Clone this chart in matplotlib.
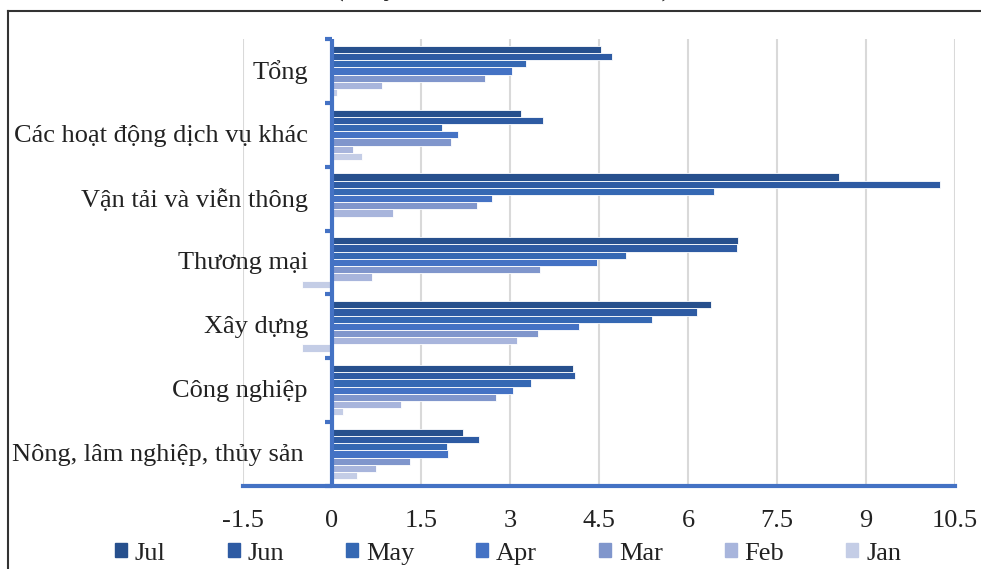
import numpy as np
import matplotlib
matplotlib.use("Agg")
import matplotlib.pyplot as plt
from matplotlib.patches import Rectangle
from matplotlib.lines import Line2D

plt.rcParams['font.family'] = ['Liberation Serif', 'DejaVu Serif']

categories = ["Tổng", "Các hoạt động dịch vụ khác", "Vận tải và viễn thông",
              "Thương mại", "Xây dựng", "Công nghiệp", "Nông, lâm nghiệp, thủy sản"]
months = ["Jul", "Jun", "May", "Apr", "Mar", "Feb", "Jan"]

jul = [4.53, 3.19, 8.54, 6.84, 6.39, 4.07, 2.20]
jun = [4.72, 3.55, 10.25, 6.82, 6.16, 4.10, 2.47]
may = [3.27, 1.85, 6.43, 4.96, 5.39, 3.35, 1.94]
apr = [3.03, 2.12, 2.70, 4.47, 4.17, 3.05, 1.96]
mar = [2.58, 2.00, 2.45, 3.51, 3.47, 2.76, 1.32]
feb = [0.85, 0.36, 1.02, 0.67, 3.12, 1.16, 0.74]
jan = [0.08, 0.51, 0.00, -0.50, -0.50, 0.18, 0.42]
series = [jul, jun, may, apr, mar, feb, jan]

x_ticks = [-1.5, 0, 1.5, 3, 4.5, 6, 7.5, 9, 10.5]
colors = ["#27508D", "#2E5BA3", "#3568B3", "#4472C4", "#8096CC", "#A8B5DC", "#C4CDE6"]
axis_blue = "#4472C4"
text_color = "#222222"

fig = plt.figure(figsize=(9.81, 5.69), dpi=100)
ax = fig.add_axes([243 / 981, (569 - 486) / 569, 712 / 981, 447 / 569])

n_cat = len(categories)
n_ser = len(series)
group = 0.79
h = group / n_ser
y = np.arange(n_cat)
for j, (vals, col) in enumerate(zip(series, colors)):
    ax.barh(y - group / 2 + h * (j + 0.5), vals, height=h, color=col,
            edgecolor="white", linewidth=0.6, zorder=3, label=months[j])

ax.set_xlim(-1.5, 10.5)
ax.set_ylim(n_cat - 0.5, -0.5)
ax.set_xticks(x_ticks)
ax.set_xticklabels([f"{t:g}" for t in x_ticks], fontsize=19, color=text_color)
ax.tick_params(axis="x", length=0, pad=17)
ax.set_yticks([])
ax.grid(axis="x", color="#D9D9D9", linewidth=1.5, zorder=0)
for s in ["top", "right", "left"]:
    ax.spines[s].set_visible(False)
ax.spines["bottom"].set_color(axis_blue)
ax.spines["bottom"].set_linewidth(3)
ax.spines["bottom"].set_zorder(5)

# category axis drawn at x = 0 with short tick marks at the group boundaries
ax.axvline(0, color=axis_blue, linewidth=3, zorder=5)
tick_len = 7 * (ax.get_xlim()[1] - ax.get_xlim()[0]) / 712
for b in np.arange(-0.5, n_cat + 0.5, 1.0):
    ax.plot([-tick_len, 0], [b, b], color=axis_blue, lw=3, zorder=5,
            clip_on=False, solid_capstyle="butt")
for i, lab in enumerate(categories):
    dx = -28 if i == n_cat - 1 else -24
    ax.annotate(lab, xy=(0, i), xytext=(dx, -1), textcoords="offset pixels",
                ha="right", va="center", fontsize=19, color=text_color,
                annotation_clip=False)

handles = [Rectangle((0, 0), 1, 1, color=c) for c in colors]
fig.legend(handles, months, loc="center", bbox_to_anchor=(0.518, 0.027),
           ncol=7, frameon=False, fontsize=19, handlelength=0.45,
           handleheight=0.45, handletextpad=0.3, columnspacing=2.35,
           labelcolor=text_color)

# outer chart frame (left and top edges)
fig.add_artist(Line2D([8 / 981, 8 / 981], [0, (569 - 11) / 569],
                      color="#333333", lw=1.5, transform=fig.transFigure))
fig.add_artist(Line2D([8 / 981, 1], [(569 - 11) / 569, (569 - 11) / 569],
                      color="#333333", lw=1.5, transform=fig.transFigure))

fig.text(503 / 981, 1 + 4 / 569, "(%, ytd so với cuối năm 2019)",
         ha="center", va="baseline", fontsize=19, fontweight="bold",
         color=text_color)

fig.savefig("out.png", dpi=100)
